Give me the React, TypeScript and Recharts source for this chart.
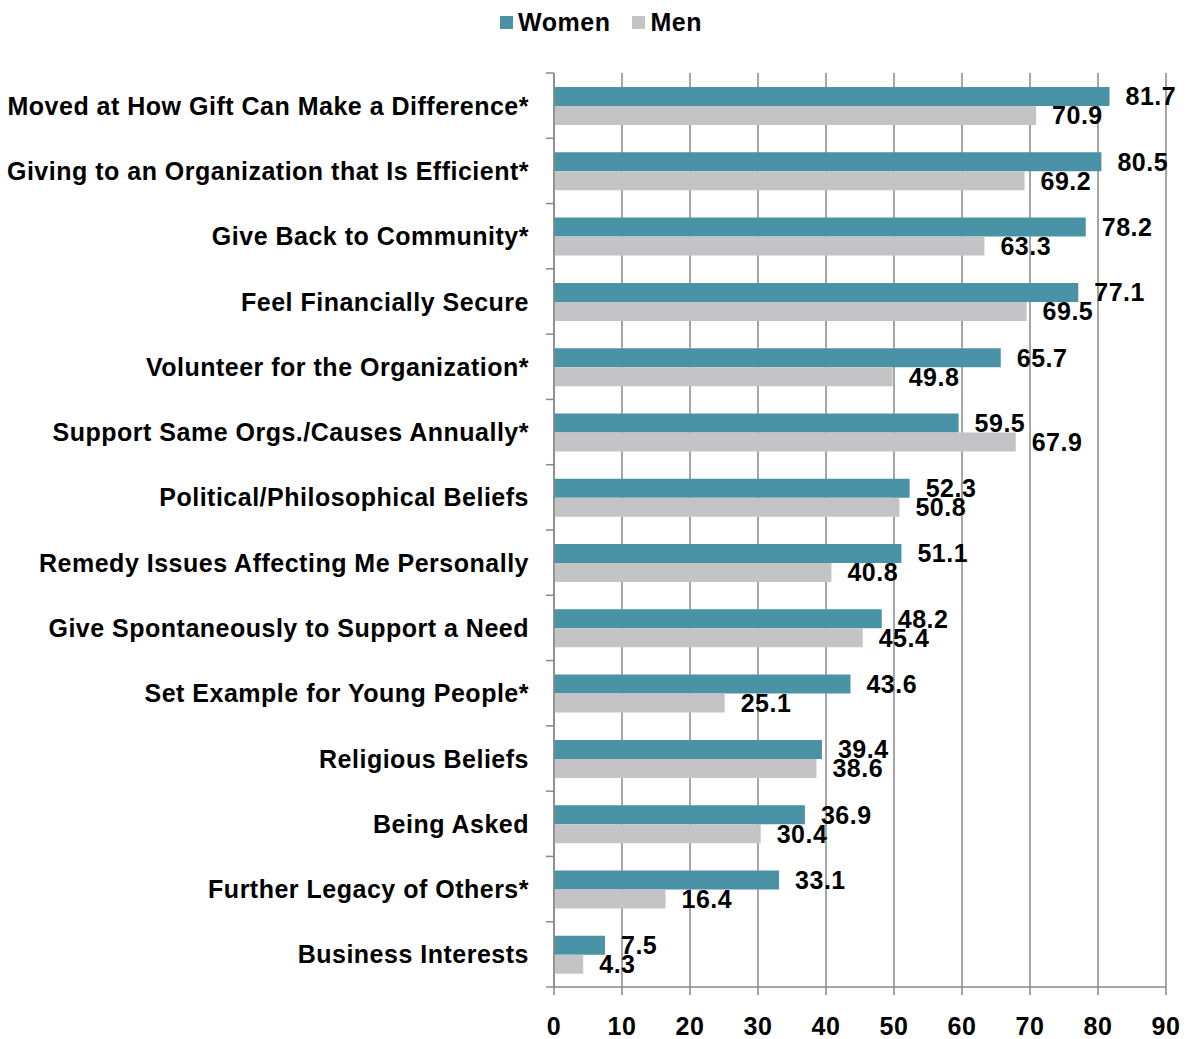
import React from "react"
import { BarChart, Bar, XAxis, YAxis, CartesianGrid, Legend, LabelList } from "recharts"

const categories = [
  "Moved at How Gift Can Make a Difference*",
  "Giving to an Organization that Is Efficient*",
  "Give Back to Community*",
  "Feel Financially Secure",
  "Volunteer for the Organization*",
  "Support Same Orgs./Causes Annually*",
  "Political/Philosophical Beliefs",
  "Remedy Issues Affecting Me Personally",
  "Give Spontaneously to Support a Need",
  "Set Example for Young People*",
  "Religious Beliefs",
  "Being Asked",
  "Further Legacy of Others*",
  "Business Interests",
]
const women = [81.7, 80.5, 78.2, 77.1, 65.7, 59.5, 52.3, 51.1, 48.2, 43.6, 39.4, 36.9, 33.1, 7.5]
const men = [70.9, 69.2, 63.3, 69.5, 49.8, 67.9, 50.8, 40.8, 45.4, 25.1, 38.6, 30.4, 16.4, 4.3]
const xTicks = [0, 10, 20, 30, 40, 50, 60, 70, 80, 90]

const data = categories.map((name, i) => ({ name, women: women[i], men: men[i] }))

const FONT = "'Liberation Sans', Arial, Helvetica, sans-serif"
const GRID = "#888888"
const TEAL = "#4a93a7"
const GREY = "#c4c4c6"
const W = 1188
const H = 1039
const TOP = 73
const BOTTOM = 52
const band = (H - TOP - BOTTOM) / categories.length

const textStyle = { fontFamily: FONT, fontWeight: 700, fontSize: 25, letterSpacing: 0.5, fill: "#000" }

function CategoryTick(props: any) {
  const { x, y, payload, index } = props
  const axisX = x + 8
  return (
    <g>
      <line x1={x} x2={axisX} y1={y - band / 2} y2={y - band / 2} stroke={GRID} strokeWidth={1.5} />
      {index === categories.length - 1 && (
        <line x1={x} x2={axisX} y1={y + band / 2} y2={y + band / 2} stroke={GRID} strokeWidth={1.5} />
      )}
      <text x={x - 17} y={y} textAnchor="end" dominantBaseline="central" style={textStyle}>
        {payload.value}
      </text>
    </g>
  )
}

function LegendContent() {
  const items = [
    { label: "Women", color: TEAL },
    { label: "Men", color: GREY },
  ]
  return (
    <div
      style={{
        height: TOP,
        display: "flex",
        justifyContent: "center",
        alignItems: "flex-start",
        paddingLeft: 14,
        gap: 22,
        fontFamily: FONT,
        fontWeight: 700,
        fontSize: 25,
        letterSpacing: 0.5,
        boxSizing: "border-box",
      }}
    >
      {items.map((it) => (
        <div key={it.label} style={{ display: "flex", alignItems: "center", marginTop: 8, lineHeight: "28px" }}>
          <span style={{ width: 13, height: 13, background: it.color, display: "inline-block", marginRight: 5 }} />
          <span>{it.label}</span>
        </div>
      ))}
    </div>
  )
}

export default function App() {
  return (
    <div style={{ position: "absolute", left: 0, top: 0, background: "#fff" }}>
      <BarChart
        width={W}
        height={H}
        data={data}
        layout="vertical"
        margin={{ top: 0, right: 22, bottom: 0, left: 0 }}
        barCategoryGap="21.5%"
        barGap={0}
      >
        <Legend
          verticalAlign="top"
          content={<LegendContent />}
          wrapperStyle={{ top: 0, left: 0, width: W, height: TOP }}
        />
        <CartesianGrid horizontal={false} stroke={GRID} strokeWidth={1.5} />
        <XAxis
          type="number"
          domain={[0, 90]}
          ticks={xTicks}
          interval={0}
          height={BOTTOM}
          tickSize={8}
          tickMargin={22}
          stroke={GRID}
          axisLine={{ stroke: GRID, strokeWidth: 1.5 }}
          tickLine={{ stroke: GRID, strokeWidth: 1.5 }}
          tick={{ ...textStyle }}
        />
        <YAxis
          type="category"
          dataKey="name"
          width={554}
          interval={0}
          tickLine={false}
          axisLine={{ stroke: GRID, strokeWidth: 1.5 }}
          tick={<CategoryTick />}
        />
        <Bar dataKey="women" name="Women" fill={TEAL} isAnimationActive={false}>
          <LabelList dataKey="women" position="right" offset={16} style={textStyle} />
        </Bar>
        <Bar dataKey="men" name="Men" fill={GREY} isAnimationActive={false}>
          <LabelList dataKey="men" position="right" offset={16} style={textStyle} />
        </Bar>
      </BarChart>
    </div>
  )
}
